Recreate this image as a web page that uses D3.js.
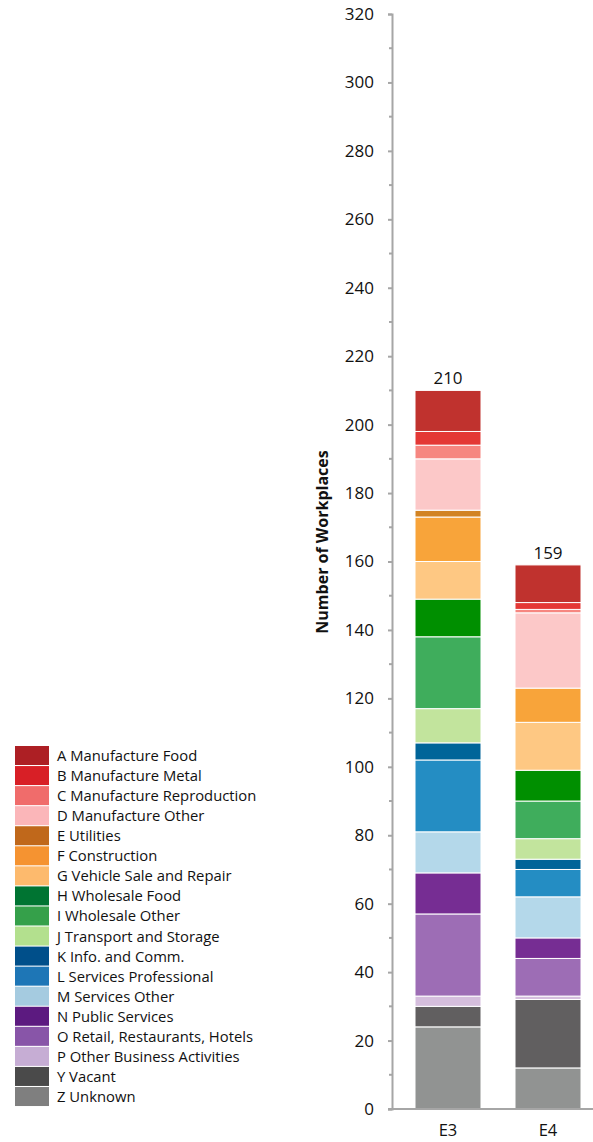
<!DOCTYPE html>
<html><head><meta charset="utf-8">
<script src="https://cdn.jsdelivr.net/npm/d3@7"></script>
<style>body{margin:0;background:#fff}svg{display:block}text{font-family:"Open Sans","Noto Sans",sans-serif;fill:#111}</style>
</head><body><svg id="c" width="593" height="1142"></svg>
<script>
const groups = ["E3","E4"];
const categories = ["A Manufacture Food","B Manufacture Metal","C Manufacture Reproduction","D Manufacture Other","E Utilities","F Construction","G Vehicle Sale and Repair","H Wholesale Food","I Wholesale Other","J Transport and Storage","K Info. and Comm.","L Services Professional","M Services Other","N Public Services","O Retail, Restaurants, Hotels","P Other Business Activities","Y Vacant","Z Unknown"];
const valuesE3 = [12,4,4,15,2,13,11,11,21,10,5,21,12,12,24,3,6,24];
const valuesE4 = [11,2,1,22,0,10,14,9,11,6,3,8,12,6,11,1,20,12];
const barColors = ["#c0322e","#e43835","#f68680","#fcc8c8","#d28322","#f8a43a","#fec883","#008f00","#3fad5c","#c2e49d","#006599","#248dc3","#b4d8ea","#762d93","#9d6db5","#d5bedd","#615f60","#919392"];
const legendColors = ["#ad1f24","#d81f26","#f06c6b","#fbb6b9","#c0681b","#f59331","#fdba6d","#007432","#35a04a","#b3e08e","#004f8a","#1e76b6","#a5cbe0","#5c1a80","#8855a8","#c6add4","#4a4a4a","#7f7f7f"];
const yTicks = d3.range(0,321,20);

const svg = d3.select("#c");
const y = d3.scaleLinear().domain([0,320]).range([1109,14]);
const x = d3.scaleBand().domain(groups).range([398,598]).paddingInner(0.34).paddingOuter(0.17);

const series = {E3: valuesE3, E4: valuesE4};
groups.forEach(g=>{
  const vals = series[g];
  let cum = 0;
  for (let i = categories.length-1; i>=0; i--) {
    const v = vals[i];
    if (v>0) {
      svg.append("rect").attr("x", x(g)).attr("width", x.bandwidth())
        .attr("y", y(cum+v)).attr("height", y(cum)-y(cum+v))
        .attr("fill", barColors[i]).attr("stroke","#fff").attr("stroke-width",1);
    }
    cum += v;
  }
  svg.append("text").attr("x", x(g)+x.bandwidth()/2).attr("y", y(cum)-6)
    .attr("text-anchor","middle").attr("font-size",17).text(cum);
  svg.append("text").attr("x", x(g)+x.bandwidth()/2).attr("y", 1136)
    .attr("text-anchor","middle").attr("font-size",16.5).text(g);
});

const yAxis = d3.axisLeft(y).tickValues(yTicks).tickSize(4).tickPadding(14);
const ga = svg.append("g").attr("transform","translate(392,0)").call(yAxis);
ga.select(".domain").attr("stroke","#a6a6a6").attr("stroke-width",2);
ga.selectAll(".tick line").attr("stroke","#a6a6a6").attr("stroke-width",2);
ga.selectAll(".tick text").attr("font-size",17).attr("font-family","'Open Sans','Noto Sans',sans-serif").attr("fill","#111");
svg.append("g").selectAll("line").data(d3.range(10,320,20)).join("line")
  .attr("x1",389).attr("x2",392).attr("y1",d=>y(d)).attr("y2",d=>y(d))
  .attr("stroke","#a6a6a6").attr("stroke-width",2);
svg.append("line").attr("x1",388).attr("x2",593).attr("y1",1109).attr("y2",1109)
  .attr("stroke","#a6a6a6").attr("stroke-width",2);

svg.append("text").attr("transform","translate(328,542) rotate(-90)")
  .attr("text-anchor","middle").attr("font-size",16).attr("font-weight","bold").text("Number of Workplaces");

const lg = svg.append("g").attr("transform","translate(15,746)");
categories.forEach((c,i)=>{
  lg.append("rect").attr("x",0).attr("y",i*20.06).attr("width",34).attr("height",19).attr("fill",legendColors[i]);
  lg.append("text").attr("x",42).attr("y",i*20.06+15).attr("font-size",14.8).attr("fill","#222").text(c);
});
</script></body></html>
